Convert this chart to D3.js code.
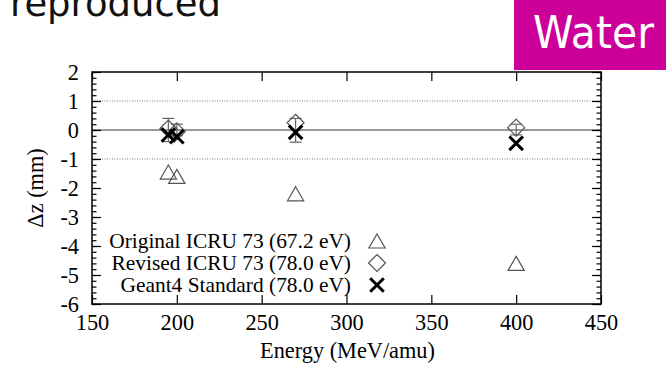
<!DOCTYPE html>
<html>
<head>
<meta charset="utf-8">
<script src="https://cdn.jsdelivr.net/npm/d3@7"></script>
<style>
  html, body { margin: 0; padding: 0; background: #fff; }
  svg { display: block; }
</style>
</head>
<body>
<svg id="chart" width="666" height="366"></svg>
<script>
// Range shift Δz versus beam energy, water target
const energies = [195, 200, 270, 400];
const originalICRU = [-1.45, -1.6, -2.2, -4.6];
const revisedICRU = [0.05, -0.05, 0.25, 0.08];
const geant4Std = [-0.17, -0.23, -0.08, -0.46];
const errLow = [-0.4, -0.2, -0.42, -0.17];
const errHigh = [0.4, 0.2, 0.4, 0.2];

const xTicks = [150, 200, 250, 300, 350, 400, 450];
const yTicks = [-6, -5, -4, -3, -2, -1, 0, 1, 2];
const yMinorTicks = d3.range(-6, 2.0001, 0.2).map(v => Math.round(v * 10) / 10);
const dottedLevels = [1, -1];

const legendLabels = [
  "Original ICRU 73 (67.2 eV)",
  "Revised ICRU 73 (78.0 eV)",
  "Geant4 Standard (78.0 eV)"
];

const svg = d3.select("#chart");
const serif = "'Liberation Serif', 'Times New Roman', serif";
const fs = 22.3;
const legendFs = 21.4;
const plainNum = d => String(d);   // plain hyphen-minus for negatives

const x = d3.scaleLinear().domain([150, 450]).range([92, 601]);
const y = d3.scaleLinear().domain([-6, 2]).range([304, 72]);

// heading text and badge
svg.append("text")
  .attr("x", 10).attr("y", 16)
  .attr("font-family", "'DejaVu Sans', sans-serif")
  .attr("font-size", 37)
  .attr("textLength", 211).attr("lengthAdjust", "spacingAndGlyphs")
  .attr("fill", "#111")
  .text("reproduced");

svg.append("rect")
  .attr("x", 514).attr("y", 0).attr("width", 152).attr("height", 70)
  .attr("fill", "#cc0099");
svg.append("text")
  .attr("x", 533).attr("y", 48)
  .attr("font-family", "'DejaVu Sans', sans-serif")
  .attr("font-size", 45)
  .attr("textLength", 121).attr("lengthAdjust", "spacingAndGlyphs")
  .attr("fill", "#fff")
  .text("Water");

// reference lines
const plot = svg.append("g");
plot.selectAll("line.dot")
  .data(dottedLevels).join("line")
  .attr("x1", x(150)).attr("x2", x(450))
  .attr("y1", d => y(d)).attr("y2", d => y(d))
  .attr("stroke", "#777").attr("stroke-width", 1)
  .attr("stroke-dasharray", "1,1.5");
plot.append("line")
  .attr("x1", x(150)).attr("x2", x(450))
  .attr("y1", y(0)).attr("y2", y(0))
  .attr("stroke", "#333").attr("stroke-width", 1.1);

// axes with inward ticks on all four sides
function styleAxis(g) {
  g.selectAll("path").remove();
  g.selectAll("line").attr("stroke", "#000").attr("stroke-width", 1.2);
  g.selectAll("text").attr("font-family", serif).attr("font-size", fs).attr("fill", "#000");
}

svg.append("g").attr("transform", `translate(0,${y(-6)})`)
  .call(d3.axisBottom(x).tickValues(xTicks).tickSizeInner(-9).tickSizeOuter(0).tickPadding(10).tickFormat(plainNum))
  .call(styleAxis);
svg.append("g").attr("transform", `translate(0,${y(2)})`)
  .call(d3.axisTop(x).tickValues(xTicks).tickSizeInner(-9).tickSizeOuter(0).tickFormat(""))
  .call(styleAxis);

svg.append("g").attr("transform", `translate(${x(150)},0)`)
  .call(d3.axisLeft(y).tickValues(yMinorTicks).tickSizeInner(-4.5).tickSizeOuter(0).tickFormat(""))
  .call(styleAxis);
svg.append("g").attr("transform", `translate(${x(450)},0)`)
  .call(d3.axisRight(y).tickValues(yMinorTicks).tickSizeInner(-4.5).tickSizeOuter(0).tickFormat(""))
  .call(styleAxis);
svg.append("g").attr("transform", `translate(${x(150)},0)`)
  .call(d3.axisLeft(y).tickValues(yTicks).tickSizeInner(-9).tickSizeOuter(0).tickPadding(13).tickFormat(plainNum))
  .call(styleAxis);
svg.append("g").attr("transform", `translate(${x(450)},0)`)
  .call(d3.axisRight(y).tickValues(yTicks).tickSizeInner(-9).tickSizeOuter(0).tickFormat(""))
  .call(styleAxis);

// frame
svg.append("rect")
  .attr("x", x(150)).attr("y", y(2))
  .attr("width", x(450) - x(150)).attr("height", y(-6) - y(2))
  .attr("fill", "none").attr("stroke", "#000").attr("stroke-width", 1.5);

// axis titles
svg.append("text")
  .attr("x", (x(150) + x(450)) / 2 + 1).attr("y", 358)
  .attr("text-anchor", "middle")
  .attr("font-family", serif).attr("font-size", fs)
  .text("Energy (MeV/amu)");
svg.append("text")
  .attr("transform", `translate(43,${(y(2) + y(-6)) / 2}) rotate(-90)`)
  .attr("text-anchor", "middle")
  .attr("font-family", serif).attr("font-size", fs)
  .text("Δz (mm)");

// marker shapes
const triPath = s => `M0,${-s * 0.5}L${s * 0.58},${s * 0.5}L${-s * 0.58},${s * 0.5}Z`;
const diaPath = s => `M0,${-s}L${s},0L0,${s}L${-s},0Z`;
const xPath = s => `M${-s},${-s}L${s},${s}M${-s},${s}L${s},${-s}`;

function drawTriangle(g, cx, cy) {
  g.append("path").attr("transform", `translate(${cx},${cy})`)
    .attr("d", triPath(14)).attr("fill", "none").attr("stroke", "#555").attr("stroke-width", 1.2);
}
function drawDiamond(g, cx, cy) {
  g.append("path").attr("transform", `translate(${cx},${cy})`)
    .attr("d", diaPath(8.5)).attr("fill", "none").attr("stroke", "#555").attr("stroke-width", 1.2);
}
function drawCross(g, cx, cy) {
  g.append("path").attr("transform", `translate(${cx},${cy})`)
    .attr("d", xPath(6.8)).attr("fill", "none").attr("stroke", "#000").attr("stroke-width", 3);
}

// error bars
const eb = svg.append("g").attr("stroke", "#666").attr("stroke-width", 1.2);
energies.forEach((e, i) => {
  const cx = x(e);
  eb.append("line").attr("x1", cx).attr("x2", cx).attr("y1", y(errLow[i])).attr("y2", y(errHigh[i]));
  eb.append("line").attr("x1", cx - 6).attr("x2", cx + 6).attr("y1", y(errLow[i])).attr("y2", y(errLow[i]));
  eb.append("line").attr("x1", cx - 6).attr("x2", cx + 6).attr("y1", y(errHigh[i])).attr("y2", y(errHigh[i]));
});

// data points
const pts = svg.append("g");
energies.forEach((e, i) => drawTriangle(pts, x(e), y(originalICRU[i])));
energies.forEach((e, i) => drawDiamond(pts, x(e), y(revisedICRU[i])));
energies.forEach((e, i) => drawCross(pts, x(e), y(geant4Std[i])));

// legend
const legend = svg.append("g");
const legendRows = [241, 263, 285];
const legendDraw = [drawTriangle, drawDiamond, drawCross];
legendLabels.forEach((lbl, i) => {
  legend.append("text")
    .attr("x", 351).attr("y", legendRows[i]).attr("dy", "0.35em")
    .attr("text-anchor", "end")
    .attr("font-family", serif).attr("font-size", legendFs)
    .text(lbl);
  legendDraw[i](legend, 377, legendRows[i]);
});
</script>
</body>
</html>
